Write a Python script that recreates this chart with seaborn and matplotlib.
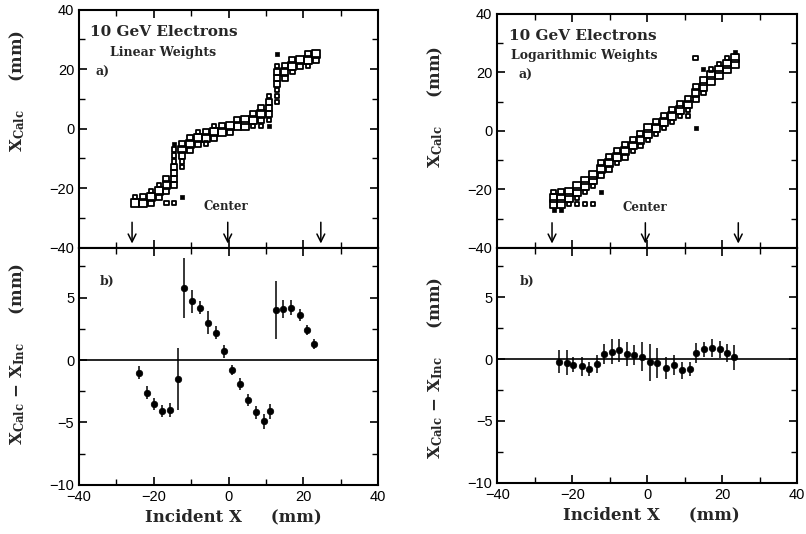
import pandas as pd
import seaborn as sns
import matplotlib.pyplot as plt
from matplotlib.ticker import MultipleLocator

sns.set_style("ticks")
plt.rcParams['font.family'] = ['Liberation Sans', 'DejaVu Sans']
plt.rcParams['mathtext.fontset'] = 'dejavuserif'
plt.rcParams['mathtext.default'] = 'bf'

# b) residuals X_calc - X_inc (mm) at each incident position
lin_x = [-23.9, -21.9, -19.8, -17.7, -15.6, -13.5, -11.8, -9.8, -7.6, -5.4, -3.3, -1.1,
         0.9, 3.0, 5.1, 7.4, 9.4, 11.2, 12.6, 14.7, 16.8, 19.0, 21.0, 23.0]
lin_res = [-1.0, -2.6, -3.5, -4.1, -4.0, -1.5, 5.8, 4.7, 4.2, 3.0, 2.2, 0.7,
           -0.8, -1.9, -3.2, -4.2, -4.9, -4.1, 4.0, 4.1, 4.2, 3.6, 2.4, 1.3]
lin_err = [0.5, 0.5, 0.5, 0.5, 0.6, 2.5, 2.4, 0.9, 0.5, 0.9, 0.5, 0.5,
           0.4, 0.5, 0.5, 0.5, 0.6, 0.6, 2.3, 0.7, 0.6, 0.5, 0.4, 0.4]

log_x = [-23.5, -21.5, -19.7, -17.5, -15.5, -13.5, -11.4, -9.4, -7.4, -5.4, -3.4, -1.4,
         0.8, 2.7, 5.0, 7.1, 9.2, 11.3, 13.1, 15.1, 17.2, 19.3, 21.4, 23.2]
log_res = [-0.2, -0.3, -0.45, -0.6, -0.8, -0.4, 0.4, 0.6, 0.7, 0.4, 0.3, 0.2,
           -0.25, -0.3, -0.7, -0.45, -0.9, -0.8, 0.5, 0.8, 0.9, 0.8, 0.5, 0.15]
log_err = [0.9, 1.0, 0.6, 0.8, 0.6, 0.7, 0.8, 1.0, 0.9, 1.0, 0.8, 1.2,
           1.5, 1.2, 0.9, 0.8, 0.7, 0.6, 0.8, 0.6, 0.7, 0.7, 0.7, 1.0]

# a) box histogram: column positions, then (column index, X_calc, box size class)
col_x = [-25.0, -22.9, -20.8, -18.7, -16.6, -14.5, -12.4, -10.2, -8.1, -6.0, -3.9, -1.8,
         0.3, 2.4, 4.5, 6.6, 8.7, 10.8, 12.9, 15.0, 17.1, 19.2, 21.3, 23.4]

lin_box_col = [0, 0, 1, 1, 2, 2, 2, 3, 3, 3, 4, 4, 4, 4, 5, 5, 5, 5, 5, 5, 5, 5, 5,
               6, 6, 6, 6, 6, 6, 7, 7, 7, 8, 8, 8, 9, 9, 9, 10, 10, 10, 11, 11, 12, 12,
               13, 13, 14, 14, 15, 15, 15, 16, 16, 16, 16, 17, 17, 17, 17, 17, 17,
               18, 18, 18, 18, 18, 18, 18, 18, 19, 19, 19, 20, 20, 20, 21, 21, 22, 22, 22, 23, 23]
lin_box_y = [-25, -23, -25, -23, -23, -25, -21, -21, -23, -19, -19, -21, -17, -25,
             -17, -15, -13, -11, -9, -7, -19, -5, -25, -7, -5, -9, -11, -13, -23,
             -5, -3, -7, -3, -5, -1, -3, -1, -5, -1, -3, 1, -1, 1, 1, -1,
             1, 3, 1, 3, 3, 5, 1, 5, 3, 7, 1, 7, 5, 9, 3, 11, 1,
             15, 17, 19, 13, 11, 9, 21, 25, 19, 17, 21, 21, 23, 19, 23, 21, 23, 25, 21, 25, 23]
lin_box_s = [3, 1, 3, 2, 3, 2, 1, 3, 2, 1, 3, 2, 2, 1, 2, 2, 2, 1, 1, 1, 2, 0, 1,
             3, 2, 2, 1, 1, 0, 3, 2, 2, 3, 2, 1, 3, 2, 1, 3, 2, 1, 3, 2, 3, 2,
             3, 2, 3, 3, 3, 2, 1, 3, 2, 2, 1, 2, 2, 2, 1, 1, 0,
             2, 2, 2, 1, 1, 1, 1, 0, 3, 2, 2, 3, 2, 1, 3, 2, 3, 2, 1, 3, 2]

log_box_col = [0, 0, 0, 0, 1, 1, 1, 1, 2, 2, 2, 3, 3, 3, 3, 4, 4, 4, 4, 5, 5, 5, 5,
               6, 6, 6, 6, 7, 7, 7, 8, 8, 8, 9, 9, 9, 10, 10, 10, 11, 11, 11,
               12, 12, 12, 13, 13, 13, 14, 14, 14, 15, 15, 15, 16, 16, 16, 17, 17, 17, 17,
               18, 18, 18, 18, 18, 19, 19, 19, 19, 20, 20, 20, 21, 21, 21, 22, 22, 22, 23, 23, 23]
log_box_y = [-25, -23, -21, -27, -23, -25, -21, -27, -21, -23, -25, -19, -21, -23, -25,
             -17, -19, -21, -25, -15, -17, -19, -25, -13, -15, -11, -21, -11, -9, -13,
             -9, -7, -11, -7, -5, -9, -5, -3, -7, -3, -1, -5,
             -1, 1, -3, 1, 3, -1, 3, 5, 1, 5, 7, 3, 7, 9, 5, 9, 11, 7, 5,
             13, 11, 15, 1, 25, 15, 17, 13, 21, 17, 19, 21, 19, 21, 23, 21, 23, 25, 23, 25, 27]
log_box_s = [3, 3, 1, 0, 3, 3, 2, 0, 3, 3, 1, 3, 3, 1, 1, 3, 3, 1, 1, 3, 3, 1, 1,
             3, 2, 2, 0, 3, 2, 2, 3, 2, 1, 3, 2, 2, 3, 2, 1, 3, 2, 1,
             3, 3, 1, 3, 2, 1, 3, 2, 1, 3, 2, 1, 3, 2, 1, 3, 2, 1, 1,
             3, 2, 2, 0, 1, 3, 3, 1, 0, 3, 3, 1, 3, 3, 1, 3, 3, 1, 3, 3, 0]

arrow_x = [[-25.8, -0.2, 24.7], [-25.4, -0.5, 24.3]]

fig = plt.figure(figsize=(8.06, 5.34), dpi=100)
top_axes = [fig.add_axes([0.098, 0.536, 0.371, 0.446]),
            fig.add_axes([0.617, 0.536, 0.372, 0.438])]
bot_axes = [fig.add_axes([0.098, 0.092, 0.371, 0.444]),
            fig.add_axes([0.617, 0.096, 0.372, 0.440])]

panels = [
    (lin_box_col, lin_box_y, lin_box_s, lin_x, lin_res, lin_err, 'Linear Weights',
     (0.66, 0.55)),
    (log_box_col, log_box_y, log_box_s, log_x, log_res, log_err, 'Logarithmic Weights',
     (0.60, 0.49)),
]

title_font = dict(family='DejaVu Serif', fontweight='bold')

for i, (bcol, by, bs, px, pres, perr, wlabel, ylab_pos) in enumerate(panels):
    ax = top_axes[i]
    boxes = pd.DataFrame({'x': [col_x[c] for c in bcol], 'y': by, 's': bs})
    sq = boxes[boxes['s'] > 0]
    sns.scatterplot(data=sq, x='x', y='y', size='s', sizes={1: 9, 2: 19, 3: 32},
                    marker='s', color='black', linewidth=1.3, legend=False, ax=ax)
    ax.collections[-1].set_facecolor('none')
    ax.collections[-1].set_edgecolor('black')
    dots = boxes[boxes['s'] == 0]
    sns.scatterplot(data=dots, x='x', y='y', marker='s', s=6, color='black',
                    edgecolor='black', linewidth=0.5, legend=False, ax=ax)

    for ax_x in arrow_x[i]:
        ax.annotate('', xy=(ax_x, -39.5), xytext=(ax_x, -30.5),
                    arrowprops=dict(arrowstyle='->', lw=1.1, color='black',
                                    mutation_scale=14))
    ax.text(-0.7, -26.3, 'Center', ha='center', va='center', fontsize=8.5, **title_font)
    ax.text(-37, 32.5, '10 GeV Electrons', ha='left', va='center', fontsize=11, **title_font)
    ax.text(-31.7 if i == 0 else -36.3, 25.7, wlabel, ha='left', va='center',
            fontsize=9, **title_font)
    ax.text(-35.5 if i == 0 else -34.4, 18.8, 'a)', ha='left', va='center',
            fontsize=9, **title_font)

    ax.set_xlim(-40, 40)
    ax.set_ylim(-40, 40)
    ax.set_yticks([-40, -20, 0, 20, 40])
    ax.yaxis.set_minor_locator(MultipleLocator(10))
    ax.xaxis.set_major_locator(MultipleLocator(20))
    ax.xaxis.set_minor_locator(MultipleLocator(10))
    ax.tick_params(labelbottom=False)
    ax.set_xlabel('')
    ax.set_ylabel(r'X$_{Calc}$     (mm)', fontsize=12, **title_font)
    ax.yaxis.set_label_coords(-0.175, ylab_pos[0])

    bx = bot_axes[i]
    res = pd.DataFrame({'x': px, 'y': pres})
    bx.axhline(0, color='black', lw=1.2)
    bx.errorbar(px, pres, yerr=perr, fmt='none', ecolor='black', elinewidth=1.1)
    sns.scatterplot(data=res, x='x', y='y', marker='o', s=22, color='black',
                    edgecolor='black', linewidth=0.5, legend=False, ax=bx)
    bx.text(-34.4 if i == 0 else -33.9, 6.3, 'b)', ha='left', va='center',
            fontsize=9, **title_font)
    bx.set_xlim(-40, 40)
    bx.set_ylim(-10, 9)
    bx.set_yticks([-10, -5, 0, 5])
    bx.yaxis.set_minor_locator(MultipleLocator(2.5))
    bx.xaxis.set_major_locator(MultipleLocator(20))
    bx.xaxis.set_minor_locator(MultipleLocator(10))
    bx.set_xlabel('Incident X     (mm)', fontsize=12, **title_font)
    bx.set_ylabel(r'X$_{Calc}$ $-$ X$_{Inc}$     (mm)', fontsize=12, **title_font)
    bx.yaxis.set_label_coords(-0.175, ylab_pos[1])
    bx.xaxis.set_label_coords(0.515, -0.1)

for ax in top_axes + bot_axes:
    for sp in ax.spines.values():
        sp.set_linewidth(1.5)
        sp.set_color('black')
    ax.tick_params(which='both', direction='in', top=True, right=True,
                   colors='black', labelsize=10.5)
    ax.tick_params(which='major', length=6, width=1.2)
    ax.tick_params(which='minor', length=4, width=1.0)

fig.savefig('out.png', dpi=100)
